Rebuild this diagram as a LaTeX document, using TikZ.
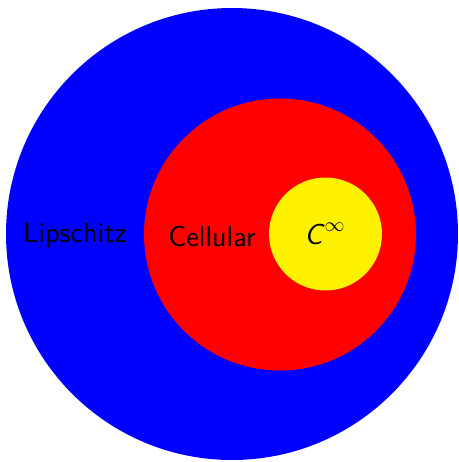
\documentclass[tikz,border=0pt]{standalone}
\usepackage{tikz}
\usetikzlibrary{positioning}

\begin{document}
\begin{tikzpicture}[x=0.5pt,y=-0.5pt, every node/.style={font=\Large\sffamily}]
      \useasboundingbox (0,0) rectangle (459,462);
      \fill[blue] (232,234) circle (226);
      \fill[red] (280,234.5) circle (136);
      \fill[yellow] (325.5,234) circle (56.5);
      \node (lipschitz) at (75,235) {Lipschitz};
      \node (cellular) at (212,237) {Cellular};
      \node (smooth) at (325,234) {$\textsf{\textit{C}}^{\infty}$};
    \end{tikzpicture}
\end{document}
